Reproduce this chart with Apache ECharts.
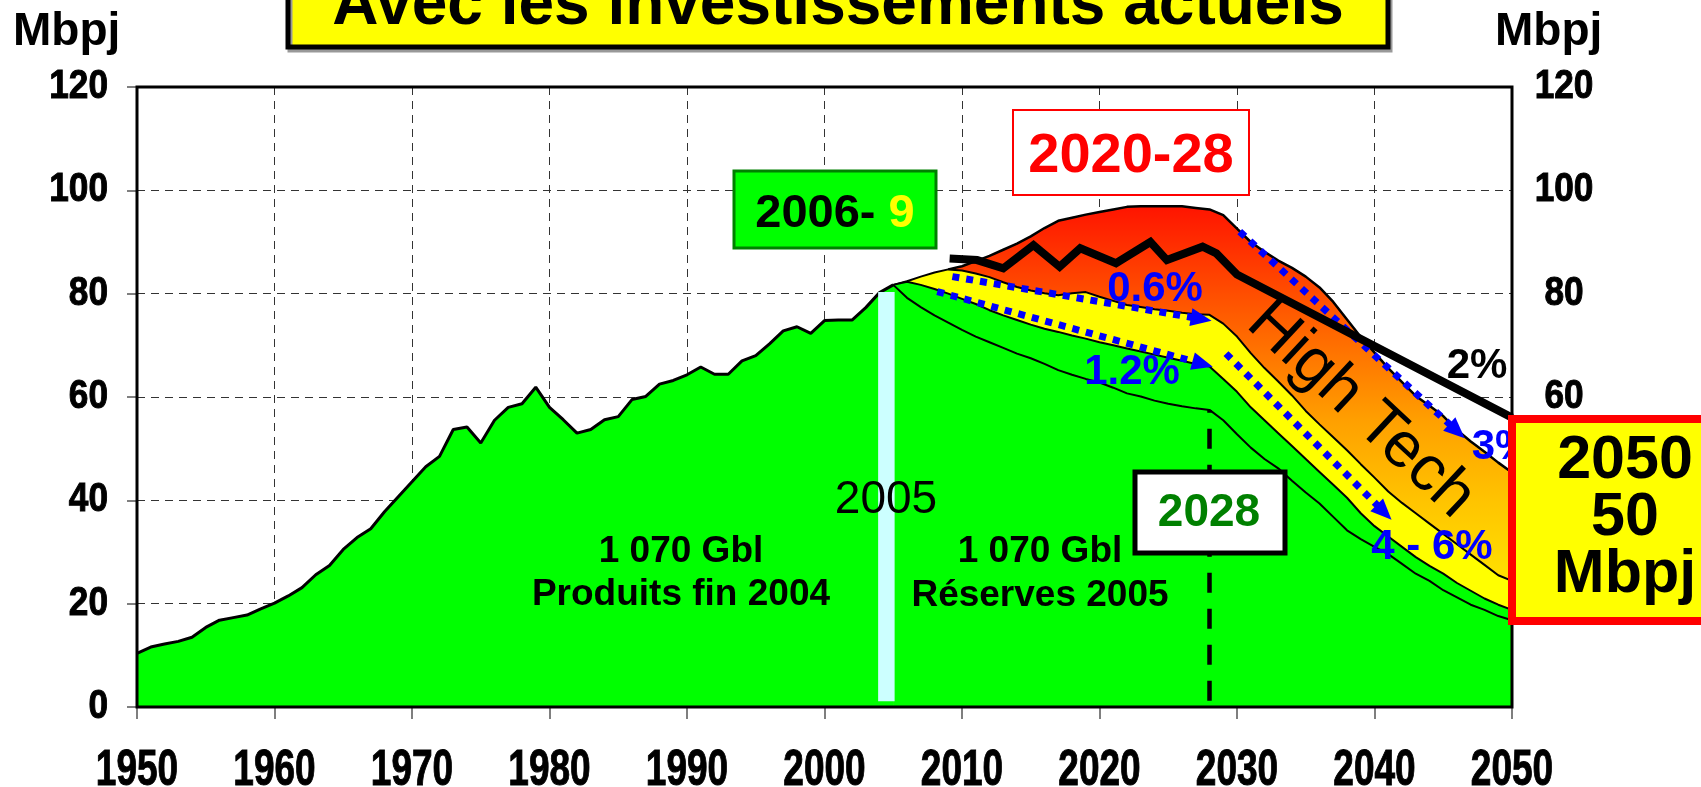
<!DOCTYPE html>
<html>
<head>
<meta charset="utf-8">
<title>Avec les investissements actuels</title>
<script src="https://cdn.jsdelivr.net/npm/echarts@6/dist/echarts.min.js"></script>
<style>
  html, body { margin: 0; padding: 0; background: #fff; }
  #chart { width: 1701px; height: 787px; }
</style>
</head>
<body>
<div id="chart"></div>
<script>
// production historique 1950-2005 (Mbpj)
const producedStart = 1950
const producedValues = [
  10.4, 11.6, 12.2, 12.7, 13.5, 15.4, 16.8, 17.3, 17.8, 19.0,
  20.1, 21.5, 23.1, 25.6, 27.4, 30.5, 32.8, 34.5, 37.8, 40.7,
  43.6, 46.5, 48.5, 53.7, 54.2, 51.1, 55.5, 58.0, 58.7, 61.9,
  58.0, 55.6, 53.0, 53.7, 55.6, 56.2, 59.5, 60.1, 62.5, 63.2,
  64.3, 65.8, 64.4, 64.4, 67.0, 68.0, 70.3, 72.8, 73.6, 72.3,
  74.8, 74.9, 74.9, 77.3, 80.2, 81.7
]

// déclin 2005-2050 : trois courbes (bas, milieu, haut de la bande jaune)
const declineStart = 2005
const lowerDecline = [
  81.7, 79.2, 77.4, 75.8, 74.4, 73.0, 71.7, 70.6, 69.5, 68.4,
  67.5, 66.4, 65.2, 64.3, 63.5, 62.8, 61.8, 60.7, 60.1, 59.3,
  58.7, 58.2, 57.8, 57.5, 55.5, 52.8, 50.2, 48.0, 46.2, 43.8,
  41.5, 39.4, 36.8, 34.2, 32.5, 31.0, 29.6, 27.7, 25.8, 24.4,
  22.6, 21.2, 19.8, 18.8, 17.6, 16.8
]
const middleDecline = [
  81.7, 82.3, 81.7, 80.9, 80.0, 79.0, 78.0, 76.8, 75.8, 74.9,
  74.0, 73.2, 72.6, 71.9, 71.3, 70.6, 70.0, 69.4, 68.8, 68.2,
  67.6, 67.0, 66.4, 65.9, 63.5, 61.0, 58.0, 55.5, 53.0, 50.5,
  48.0, 45.5, 43.0, 40.5, 37.5, 35.0, 33.0, 31.0, 29.0, 27.3,
  25.8, 24.0, 22.5, 21.0, 19.8, 18.8
]
const upperDecline = [
  81.7, 82.4, 83.3, 84.1, 84.7, 84.5, 83.9, 83.2, 82.2, 81.3,
  80.6, 80.1, 79.7, 80.1, 80.3, 79.4, 78.6, 77.8, 77.4, 77.0,
  76.7, 76.3, 76.0, 75.9, 74.2, 71.7, 68.5, 65.6, 63.0, 60.3,
  57.3, 54.7, 52.2, 49.7, 47.0, 44.4, 41.7, 39.5, 37.5, 35.5,
  33.5, 31.5, 29.5, 27.5, 25.5, 24.4
]

// High Tech 2009-2050
const highTechStart = 2009
const highTechValues = [
  84.7, 85.3, 86.3, 87.3, 88.5, 89.7, 91.1, 92.7, 94.1, 94.7,
  95.3, 95.8, 96.3, 96.8, 96.9, 96.9, 96.9, 96.9, 96.6, 96.3,
  95.2, 92.6, 90.0, 88.1, 86.4, 85.0, 83.3, 81.2, 78.4, 75.0,
  71.6, 68.6, 65.6, 62.9, 60.2, 58.3, 56.3, 53.6, 51.4, 49.4,
  47.3, 45.4
]

// courbe noire épaisse (2%)
const demandYears = [2009.1, 2011.1, 2013.0, 2015.2, 2017.1, 2018.6, 2021.2, 2023.7, 2024.9, 2027.5, 2028.5, 2030.0, 2050.0]
const demandValues = [86.8, 86.5, 84.9, 89.4, 85.2, 88.8, 85.9, 90.0, 86.5, 89.1, 87.8, 83.7, 56.0]

// flèches pointillées bleues (0.6%, 1.2%, 3%, 4-6%) : [année, Mbpj]
const arrowStart = [[2009.3, 83.3], [2008.2, 80.4], [2030.2, 92.0], [2029.2, 68.4]]
const arrowEnd = [[2027.4, 75.1], [2027.5, 66.4], [2046.0, 53.4], [2040.7, 37.7]]

// repère 2005 (barre cyan) et 2028 (tirets)
const cutoffYears = [2003.9, 2005.1]
const cutoffRange = [1.1, 80.3]
const peakYear = 2028
const peakRange = [1.2, 57.5]

// graduations
const xTickLabels = [1950, 1960, 1970, 1980, 1990, 2000, 2010, 2020, 2030, 2040, 2050]
const leftTickLabels = [0, 20, 40, 60, 80, 100, 120]
const rightTickLabels = [60, 80, 100, 120]

function toPairs(start, values) {
  return values.map((v, i) => [start + i, v])
}

const sans = '"Liberation Sans", Arial, sans-serif'

const chart = echarts.init(document.getElementById('chart'))

const orangeFill = new echarts.graphic.LinearGradient(0, 0, 0, 1, [
  { offset: 0, color: '#ff1400' },
  { offset: 0.12, color: '#ff3c00' },
  { offset: 0.28, color: '#ff7000' },
  { offset: 0.43, color: '#ffa000' },
  { offset: 0.59, color: '#ffc400' },
  { offset: 0.72, color: '#ffdc00' },
  { offset: 1, color: '#ffee00' }
])

const gridDash = { color: '#333', width: 1, type: [8, 6] }

chart.setOption({
  animation: false,
  backgroundColor: '#fff',
  grid: {
    left: 137,
    right: 189,
    top: 87,
    bottom: 80,
    show: true,
    backgroundColor: 'transparent',
    borderColor: '#000',
    borderWidth: 3,
    z: 20
  },
  xAxis: {
    type: 'value',
    min: 1950,
    max: 2050,
    interval: 10,
    axisLine: { show: false },
    axisTick: { show: true, length: 12, lineStyle: { color: '#555', width: 1.5 } },
    splitLine: { show: true, lineStyle: gridDash },
    axisLabel: { show: false }
  },
  yAxis: [
    {
      type: 'value',
      min: 0,
      max: 120,
      interval: 20,
      position: 'left',
      axisLine: { show: false },
      axisTick: { show: true, length: 10, lineStyle: { color: '#555', width: 1.5 } },
      splitLine: { show: true, lineStyle: gridDash },
      axisLabel: { show: false }
    },
    {
      type: 'value',
      min: 0,
      max: 120,
      interval: 20,
      position: 'right',
      axisLine: { show: false },
      axisTick: { show: false },
      splitLine: { show: false },
      axisLabel: { show: false }
    }
  ],
  series: [
    {
      name: 'High Tech',
      type: 'line',
      z: 1,
      symbol: 'none',
      data: toPairs(highTechStart, highTechValues),
      lineStyle: { color: '#000', width: 2.5 },
      areaStyle: { color: orangeFill, opacity: 1 }
    },
    {
      name: 'bande jaune',
      type: 'line',
      z: 2,
      symbol: 'none',
      data: toPairs(declineStart, upperDecline),
      lineStyle: { color: '#000', width: 2 },
      areaStyle: { color: '#ffff00', opacity: 1 }
    },
    {
      name: 'bande verte',
      type: 'line',
      z: 3,
      symbol: 'none',
      data: toPairs(declineStart, middleDecline),
      lineStyle: { color: '#000', width: 2 },
      areaStyle: { color: '#00ff00', opacity: 1 }
    },
    {
      name: 'déclin',
      type: 'line',
      z: 4,
      symbol: 'none',
      data: toPairs(declineStart, lowerDecline),
      lineStyle: { color: '#000', width: 2 },
      areaStyle: { color: '#00ff00', opacity: 1 }
    },
    {
      name: 'produit',
      type: 'line',
      z: 4,
      symbol: 'none',
      data: toPairs(producedStart, producedValues),
      lineStyle: { color: '#000', width: 3 },
      areaStyle: { color: '#00ff00', opacity: 1 }
    },
    {
      name: 'repères',
      type: 'line',
      z: 5,
      data: [],
      markArea: {
        silent: true,
        z: 10,
        itemStyle: { color: '#ccffff' },
        data: [[
          { coord: [cutoffYears[0], cutoffRange[0]] },
          { coord: [cutoffYears[1], cutoffRange[1]] }
        ]]
      },
      markLine: {
        silent: true,
        symbol: ['none', 'none'],
        label: { show: false },
        lineStyle: { color: '#000', width: 4.5, type: [20, 16] },
        data: [[
          { coord: [peakYear, peakRange[0]] },
          { coord: [peakYear, peakRange[1]] }
        ]]
      }
    },
    {
      name: 'demande',
      type: 'line',
      z: 6,
      symbol: 'none',
      data: demandYears.map((y, i) => [y, demandValues[i]]),
      lineStyle: { color: '#000', width: 8, join: 'miter' }
    },
    {
      name: 'taux',
      type: 'line',
      z: 7,
      data: [],
      markLine: {
        silent: true,
        symbol: ['none', 'triangle'],
        symbolSize: [18, 21],
        label: { show: false },
        lineStyle: { color: '#0000ff', width: 7, type: [7, 7] },
        data: arrowStart.map((s, i) => [{ coord: s }, { coord: arrowEnd[i] }])
      }
    }
  ]
})

// libellés des axes en caractères étroits, placés par les échelles du graphique
const tickStyle = (text, size, align) => ({
  text: String(text), font: 'bold ' + size + 'px ' + sans, fill: '#000',
  stroke: '#000', lineWidth: 1, align: align, verticalAlign: 'middle'
})
const tickGraphics = []
xTickLabels.forEach(v => {
  tickGraphics.push({
    type: 'text', z: 90, x: chart.convertToPixel({ xAxisIndex: 0 }, v), y: 771, scaleX: 0.74,
    style: tickStyle(v, 50, 'center')
  })
})
leftTickLabels.forEach(v => {
  tickGraphics.push({
    type: 'text', z: 90, x: 108, y: chart.convertToPixel({ yAxisIndex: 0 }, v), scaleX: 0.88,
    style: tickStyle(v, 40, 'right')
  })
})
rightTickLabels.forEach(v => {
  tickGraphics.push({
    type: 'text', z: 90, x: 1564, y: chart.convertToPixel({ yAxisIndex: 1 }, v), scaleX: 0.88,
    style: tickStyle(v, 40, 'center')
  })
})

const boxText = (x, y, text, font, fill, extra) => ({
  type: 'text', z: 101, x: x, y: y,
  style: Object.assign({ text: text, font: font, fill: fill, align: 'center', verticalAlign: 'middle' }, extra || {})
})

chart.setOption({
  graphic: tickGraphics.concat([
    // titre
    { type: 'rect', z: 100, shape: { x: 288, y: -60, width: 1100, height: 107 }, style: { fill: '#ffff00', stroke: '#000', lineWidth: 5, shadowColor: '#999', shadowOffsetX: 2, shadowOffsetY: 3 } },
    boxText(838, 6, 'Avec les investissements actuels', 'bold 64px ' + sans, '#000'),
    // unités
    { type: 'text', z: 101, x: 13, y: 32, style: { text: 'Mbpj', font: 'bold 46px ' + sans, fill: '#000', align: 'left', verticalAlign: 'middle' } },
    { type: 'text', z: 101, x: 1495, y: 32, style: { text: 'Mbpj', font: 'bold 46px ' + sans, fill: '#000', align: 'left', verticalAlign: 'middle' } },
    // 2006- 9
    { type: 'rect', z: 100, shape: { x: 734, y: 171, width: 202, height: 77 }, style: { fill: '#00ff00', stroke: '#008000', lineWidth: 3 } },
    {
      type: 'text', z: 101, x: 835, y: 214,
      style: {
        text: '{a|2006- }{b|9}',
        align: 'center',
        verticalAlign: 'middle',
        rich: {
          a: { font: 'bold 47px ' + sans, fill: '#000' },
          b: { font: 'bold 47px ' + sans, fill: '#ffff00', textShadowColor: '#666', textShadowOffsetX: 2, textShadowOffsetY: 2 }
        }
      }
    },
    // 2020-28
    { type: 'rect', z: 100, shape: { x: 1013, y: 110, width: 236, height: 85 }, style: { fill: '#fff', stroke: '#ff0000', lineWidth: 2 } },
    boxText(1131, 157, '2020-28', 'bold 56px ' + sans, '#ff0000', { textShadowColor: '#aaa', textShadowOffsetX: 3, textShadowOffsetY: 3 }),
    // 2028
    { type: 'rect', z: 100, shape: { x: 1135, y: 472, width: 150, height: 81 }, style: { fill: '#fff', stroke: '#000', lineWidth: 5 } },
    boxText(1209, 513, '2028', 'bold 46px ' + sans, '#008000'),
    // 2005
    boxText(886, 500, '2005', '46px ' + sans, '#000'),
    // volumes
    boxText(681, 552, '1 070 Gbl', 'bold 37px ' + sans, '#000'),
    boxText(681, 595, 'Produits fin 2004', 'bold 37px ' + sans, '#000'),
    boxText(1040, 552, '1 070 Gbl', 'bold 37px ' + sans, '#000'),
    boxText(1040, 596, 'Réserves 2005', 'bold 37px ' + sans, '#000'),
    // High Tech
    Object.assign(boxText(1361, 410, 'High Tech', '64px ' + sans, '#000', { textShadowColor: '#aaa', textShadowOffsetX: 3, textShadowOffsetY: 3 }), { rotation: -0.75 }),
    // taux
    boxText(1155, 289, '0.6%', 'bold 42px ' + sans, '#0000ff'),
    boxText(1132, 372, '1.2%', 'bold 42px ' + sans, '#0000ff'),
    boxText(1477, 366, '2%', 'bold 42px ' + sans, '#000'),
    boxText(1502, 447, '3%', 'bold 42px ' + sans, '#0000ff'),
    boxText(1432, 547, '4 - 6%', 'bold 42px ' + sans, '#0000ff'),
    // 2050 50 Mbpj
    { type: 'rect', z: 102, shape: { x: 1512, y: 419, width: 250, height: 202 }, style: { fill: '#ffff00', stroke: '#ff0000', lineWidth: 8 } },
    Object.assign(boxText(1625, 461, '2050', 'bold 61px ' + sans, '#000'), { z: 103 }),
    Object.assign(boxText(1625, 518, '50', 'bold 61px ' + sans, '#000'), { z: 103 }),
    Object.assign(boxText(1625, 575, 'Mbpj', 'bold 61px ' + sans, '#000'), { z: 103 })
  ])
})
</script>
</body>
</html>
